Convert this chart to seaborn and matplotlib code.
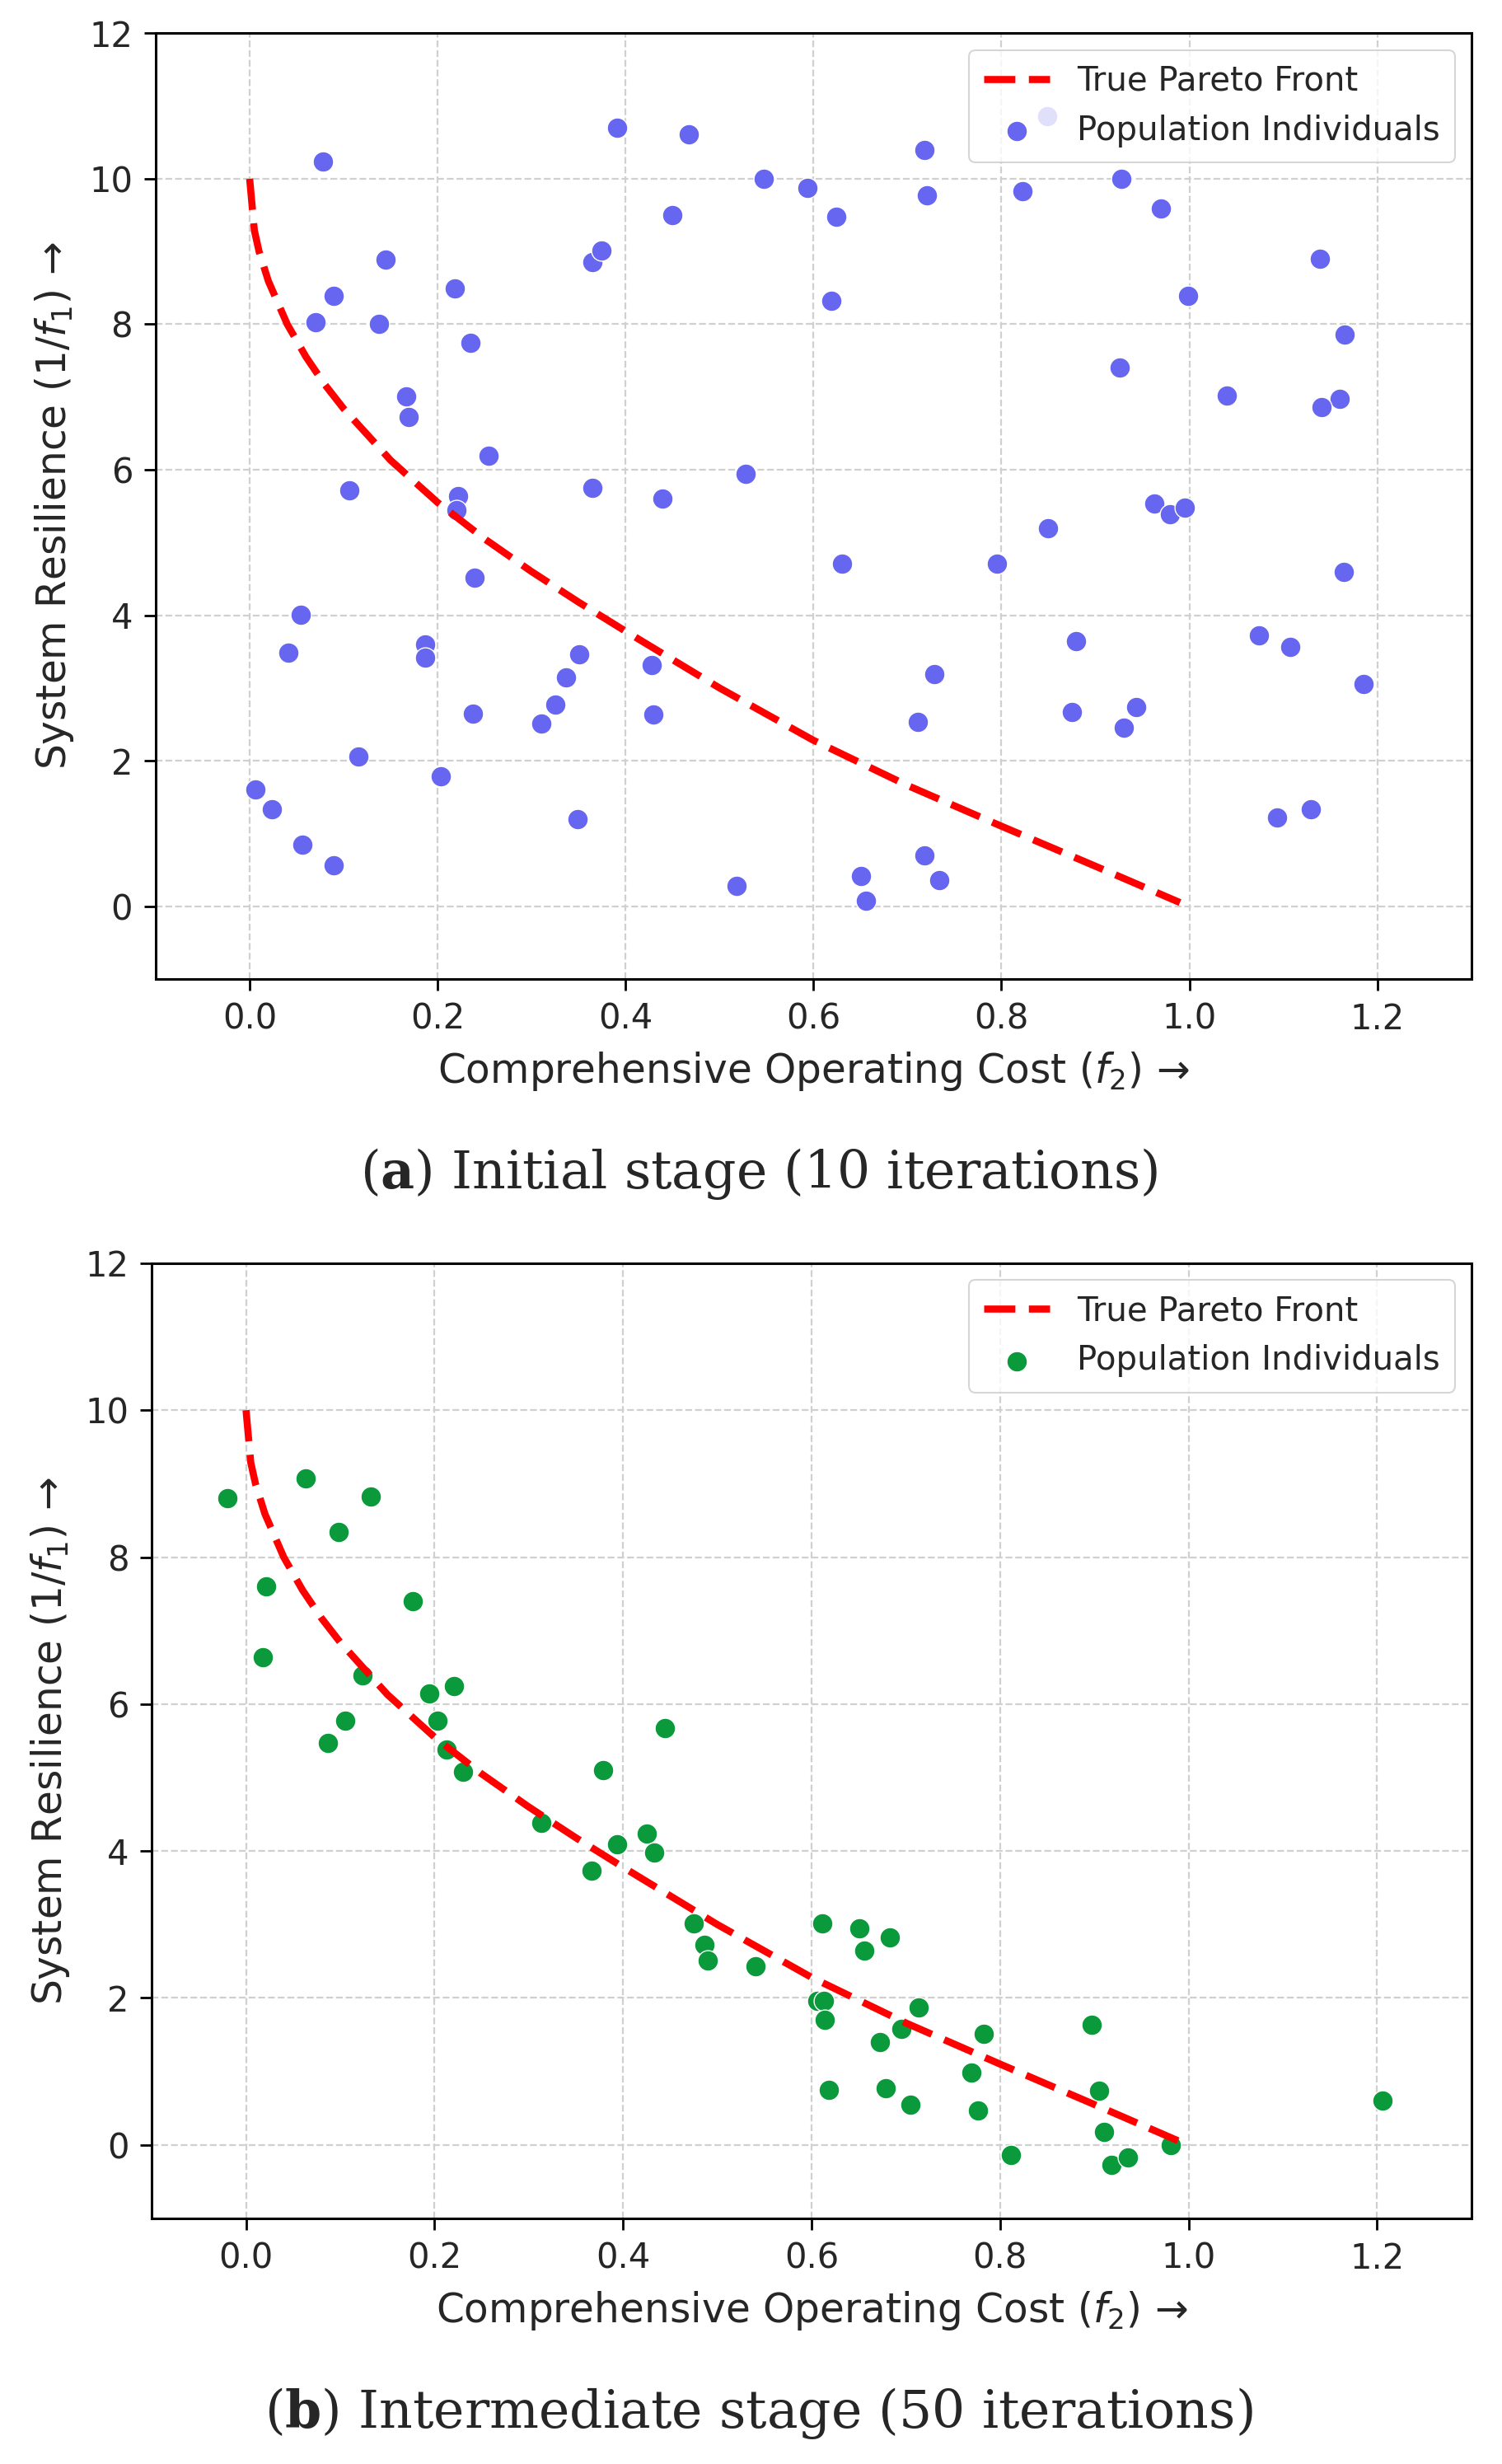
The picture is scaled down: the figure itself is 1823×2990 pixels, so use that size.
import numpy as np
import pandas as pd
import matplotlib
matplotlib.use("Agg")
import matplotlib.pyplot as plt
import seaborn as sns

# ---------------- data ----------------
front_x = [0.0, 0.005, 0.01, 0.02, 0.04, 0.06, 0.08, 0.10, 0.15, 0.20, 0.25, 0.30,
           0.35, 0.40, 0.50, 0.60, 0.70, 0.80, 0.90, 0.99]
front_y = [10.0, 9.29, 9.0, 8.59, 8.0, 7.55, 7.17, 6.84, 6.13, 5.55, 5.05, 4.6,
           4.18, 3.78, 3.0, 2.28, 1.66, 1.1, 0.55, 0.05]

a_x = [0.078, 0.391, 0.467, 0.718, 0.547, 0.594, 0.624, 0.450, 0.721, 0.822,
       0.928, 0.970, 1.139, 0.999, 1.165, 0.926, 1.040, 1.160, 1.141, 0.145,
       0.089, 0.070, 0.138, 0.218, 0.235, 0.365, 0.374, 0.619, 0.167, 0.169,
       0.254, 0.106, 0.222, 0.220, 0.365, 0.439, 0.528, 0.239, 0.630, 0.795,
       0.850, 0.963, 0.979, 0.995, 1.164, 0.054, 0.041, 0.187, 0.187, 0.351,
       0.337, 0.325, 0.310, 0.238, 0.428, 0.430, 0.729, 0.711, 0.879, 0.875,
       0.930, 0.943, 1.074, 1.107, 1.185, 0.116, 0.203, 0.006, 0.024, 0.056,
       0.089, 0.349, 0.518, 0.651, 0.656, 0.718, 0.734, 1.093, 1.129, 0.849]
a_y = [10.24, 10.70, 10.61, 10.39, 10.00, 9.87, 9.48, 9.50, 9.77, 9.83,
       10.00, 9.59, 8.90, 8.39, 7.86, 7.41, 7.02, 6.98, 6.86, 8.89,
       8.39, 8.03, 8.01, 8.49, 7.74, 8.85, 9.01, 8.32, 7.01, 6.72,
       6.19, 5.72, 5.64, 5.45, 5.75, 5.60, 5.94, 4.52, 4.71, 4.71,
       5.20, 5.54, 5.39, 5.48, 4.60, 4.01, 3.49, 3.60, 3.42, 3.46,
       3.15, 2.77, 2.51, 2.65, 3.31, 2.63, 3.19, 2.53, 3.64, 2.67,
       2.45, 2.74, 3.72, 3.57, 3.06, 2.06, 1.79, 1.60, 1.33, 0.85,
       0.56, 1.20, 0.28, 0.42, 0.08, 0.70, 0.36, 1.22, 1.33, 10.86]

b_x = [-0.020, 0.063, 0.132, 0.098, 0.021, 0.177, 0.018, 0.124, 0.194, 0.221,
       0.203, 0.105, 0.087, 0.213, 0.230, 0.444, 0.379, 0.313, 0.394, 0.425,
       0.433, 0.367, 0.475, 0.486, 0.490, 0.541, 0.611, 0.651, 0.656, 0.683,
       0.606, 0.613, 0.614, 0.714, 0.695, 0.673, 0.783, 0.770, 0.618, 0.679,
       0.705, 0.777, 0.812, 0.897, 0.905, 0.910, 0.918, 0.936, 0.981, 1.206]
b_y = [8.80, 9.07, 8.82, 8.34, 7.60, 7.40, 6.64, 6.39, 6.14, 6.24,
       5.77, 5.77, 5.47, 5.38, 5.08, 5.67, 5.10, 4.38, 4.09, 4.24,
       3.98, 3.73, 3.02, 2.72, 2.51, 2.43, 3.01, 2.95, 2.64, 2.82,
       1.96, 1.96, 1.70, 1.87, 1.58, 1.40, 1.51, 0.98, 0.75, 0.77,
       0.55, 0.47, -0.14, 1.63, 0.74, 0.18, -0.27, -0.17, 0.00, 0.60]

x_ticks = [0.0, 0.2, 0.4, 0.6, 0.8, 1.0, 1.2]
y_ticks = [0, 2, 4, 6, 8, 10, 12]
captions = [("a", "Initial stage (10 iterations)"),
            ("b", "Intermediate stage (50 iterations)")]

# ---------------- style ----------------
sns.set_theme(style="ticks")
plt.rcParams["font.family"] = ["DejaVu Sans"]
plt.rcParams["mathtext.fontset"] = "custom"
plt.rcParams["mathtext.rm"] = "DejaVu Sans"
plt.rcParams["mathtext.it"] = "DejaVu Sans:italic"
plt.rcParams["mathtext.bf"] = "DejaVu Serif:bold"

fig = plt.figure(figsize=(18.24, 29.90), dpi=100)
ax_a = fig.add_axes([0.1036, 0.6027, 0.979 - 0.1036, 0.9865 - 0.6027])
ax_b = fig.add_axes([0.101, 0.0997, 0.979 - 0.101, 0.4873 - 0.0997])

panels = [(ax_a, a_x, a_y, "#6666f0"), (ax_b, b_x, b_y, "#0a9a3c")]

for ax, xs, ys, col in panels:
    front = pd.DataFrame({"x": front_x, "y": front_y})
    pts = pd.DataFrame({"x": xs, "y": ys})
    sns.lineplot(data=front, x="x", y="y", ax=ax, color="red", linewidth=6.2,
                 linestyle="--", label="True Pareto Front", zorder=3, sort=False)
    ax.lines[0].set_dashes([4.4, 1.9])
    sns.scatterplot(data=pts, x="x", y="y", ax=ax, color=col, s=320,
                    edgecolor="white", linewidth=1.0, alpha=1.0,
                    label="Population Individuals", zorder=2)
    ax.set_xlim(-0.1, 1.3)
    ax.set_ylim(-1, 12)
    ax.set_xticks(x_ticks)
    ax.set_yticks(y_ticks)
    ax.set_xticklabels([f"{v:.1f}" for v in x_ticks])
    ax.set_yticklabels([str(v) for v in y_ticks])
    ax.grid(True, linestyle="--", color="#d0d0d0", linewidth=1.6)
    ax.set_axisbelow(True)
    for sp in ax.spines.values():
        sp.set_visible(True)
        sp.set_color("black")
        sp.set_linewidth(2.2)
    ax.tick_params(axis="both", labelsize=30, length=10, width=2.0,
                   color="black", pad=10)
    ax.set_xlabel("Comprehensive Operating Cost ($f_2$) \u2192",
                  fontsize=35, labelpad=12)
    ax.set_ylabel("System Resilience ($1/f_1$) \u2192",
                  fontsize=35, labelpad=12)
    leg = ax.legend(loc="upper right", fontsize=29, frameon=True,
                    framealpha=0.8, edgecolor="#cccccc", borderpad=0.45,
                    handlelength=2.0, markerscale=1.0)
    leg.get_frame().set_linewidth(1.5)

for (letter, text), yfrac in zip(captions, [0.5235, 0.0205]):
    fig.text(0.505, yfrac, rf"($\mathbf{{{letter}}}$) {text}",
             ha="center", va="center", fontsize=45.5, family="DejaVu Serif")

fig.savefig("out.png", dpi=100)
